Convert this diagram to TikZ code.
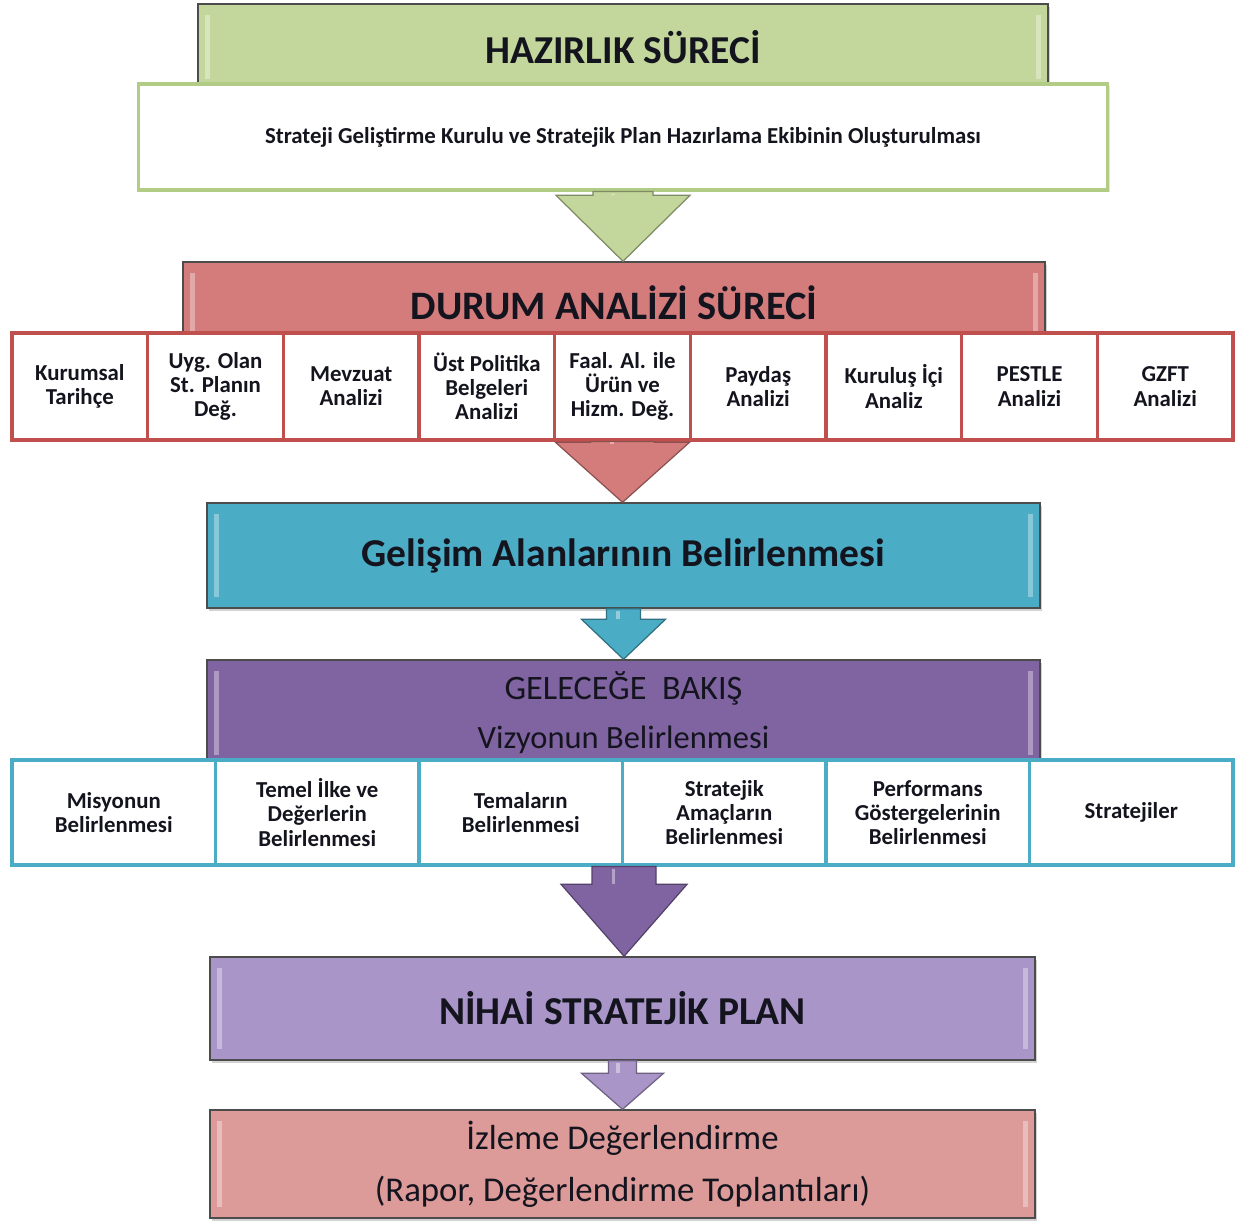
\documentclass[tikz,border=0pt]{standalone}
\usepackage{fontspec}
\setmainfont{Carlito}
\usetikzlibrary{calc,shadows}
\definecolor{yesil}{HTML}{C3D69B}
\definecolor{yesilcizgi}{HTML}{B3CC85}
\definecolor{kirmizi}{HTML}{C0504D}
\definecolor{somon}{HTML}{D47C7B}
\definecolor{mavi}{HTML}{4BACC6}
\definecolor{mor}{HTML}{8064A2}
\definecolor{lila}{HTML}{A995C8}
\definecolor{pembe}{HTML}{DC9A98}
\definecolor{yazi}{HTML}{14141E}
\newcommand{\buyuk}{\fontsize{22.5}{26}\selectfont\bfseries}
\newcommand{\orta}{\fontsize{19.8}{29.5}\selectfont}
\newcommand{\kucuk}{\fontsize{13}{13.8}\selectfont\bfseries}
% blok ok: #1 nereden, #2 nereye, #3 govde, #4 bas, #5 bas boyu, #6 renk
\newcommand{\blokok}[6]{%
	\coordinate (uc) at (#2 -| #1);
	\filldraw[fill=#6,draw=#6!65!black,line width=.7pt] ($(#1)+(-#3,0)$) -- ($(uc)+(-#3,-#5)$)
	-- ($(uc)+(-#4,-#5)$) -- (uc) -- ($(uc)+(#4,-#5)$) -- ($(uc)+(#3,-#5)$) -- ($(#1)+(#3,0)$) -- cycle;
	\draw[white,opacity=.4,line width=2pt] ($(#1)+(-#3/3,2)$) -- ($(uc)+(-#3/3,-#5)$);
}

\begin{document}
\begin{tikzpicture}[x=0.02cm,y=-0.02cm,text=yazi,
	parlak/.style={path picture={
		\fill[white,opacity=.35] ([xshift=4pt,yshift=-6pt]path picture bounding box.north west) rectangle ([xshift=7pt,yshift=6pt]path picture bounding box.south west);
		\fill[white,opacity=.35] ([xshift=-7pt,yshift=-6pt]path picture bounding box.north east) rectangle ([xshift=-4pt,yshift=6pt]path picture bounding box.south east);}},
	baslik/.style={draw=black!70,line width=.8pt,fill=#1,inner sep=0pt,align=center,parlak,
		drop shadow={shadow xshift=1.2pt,shadow yshift=-1.5pt,opacity=.35}},
	kirmizikutu/.style={draw=kirmizi,fill=white,line width=1.8pt,minimum width=2.7133cm,minimum height=2.14cm,
		align=center,inner sep=1pt,font=\kucuk},
	mavikutu/.style={draw=mavi,fill=white,line width=1.8pt,minimum width=4.07cm,minimum height=2.1cm,
		align=center,inner sep=1pt,font=\kucuk}]
	\fill[white] (0,0) rectangle (1235,1229);
	\useasboundingbox (0,0) rectangle (1235,1229);

	% hazirlik
	\node[baslik=yesil,minimum width=17cm,minimum height=1.72cm,font=\buyuk] (hazir) at (623,47) {HAZIRLIK SÜRECİ};
	\node[draw=yesilcizgi,line width=1.8pt,fill=white,minimum width=19.4cm,minimum height=2.12cm,
		font=\fontsize{13}{15}\selectfont\bfseries,drop shadow={shadow xshift=1pt,shadow yshift=-1.2pt,opacity=.2}] (olustur) at (623,137)
		{Strateji Geliştirme Kurulu ve Stratejik Plan Hazırlama Ekibinin Oluşturulması};

	% durum analizi
	\node[baslik=somon,minimum width=17.24cm,minimum height=1.64cm,font=\fontsize{23}{26}\selectfont\bfseries] (durum) at (614,303) {DURUM ANALİZİ SÜRECİ};
	\blokok{olustur.south}{durum.north}{30}{67}{66}{yesil}
	\foreach \metin [count=\i] in {{Kurumsal\\Tarihçe},{Uyg. Olan\\St. Planın\\Değ.},{Mevzuat\\Analizi},
		{Üst Politika\\Belgeleri\\Analizi},{Faal. Al. ile\\Ürün ve\\Hizm. Değ.},{Paydaş\\Analizi},
		{Kuruluş İçi\\Analiz},{PESTLE\\Analizi},{GZFT\\Analizi}}{
		\node[kirmizikutu] (d\i) at ({12+135.67*(\i-0.5)},386.5) {\metin};
	}

	% gelisim alanlari
	\node[baslik=mavi,minimum width=16.66cm,minimum height=2.1cm,font=\buyuk] (gelisim) at (623.5,555.5) {Gelişim Alanlarının Belirlenmesi};
	\blokok{d5.south}{gelisim.north}{32}{67}{60}{somon}

	% gelecege bakis
	\node[baslik=mor,minimum width=16.66cm,minimum height=2.12cm,font=\fontsize{18.5}{28}\selectfont] (gelecek) at (623.5,713)
		{{\fontsize{19.5}{28}\selectfont GELECEĞE~~BAKIŞ}\\Vizyonun Belirlenmesi};
	\blokok{gelisim.south}{gelecek.north}{17}{42}{40}{mavi}
	\foreach \metin [count=\i] in {{Misyonun\\Belirlenmesi},{Temel İlke ve\\Değerlerin\\Belirlenmesi},{Temaların\\Belirlenmesi},
		{Stratejik\\Amaçların\\Belirlenmesi},{Performans\\Göstergelerinin\\Belirlenmesi},{Stratejiler}}{
		\node[mavikutu] (t\i) at ({12+203.5*(\i-0.5)},812.5) {\metin};
	}

	% nihai plan ve izleme
	\node[baslik=lila,minimum width=16.5cm,minimum height=2.06cm,font=\buyuk] (nihai) at (622.5,1008.5) {NİHAİ STRATEJİK PLAN};
	\blokok{t3.south east}{nihai.north}{32}{63}{72}{mor}
	\node[baslik=pembe,minimum width=16.5cm,minimum height=2.16cm,font=\orta] (izleme) at (622.5,1164) {İzleme Değerlendirme\\(Rapor, Değerlendirme Toplantıları)};
	\blokok{nihai.south}{izleme.north}{14}{41}{36}{lila}
\end{tikzpicture}
\end{document}
